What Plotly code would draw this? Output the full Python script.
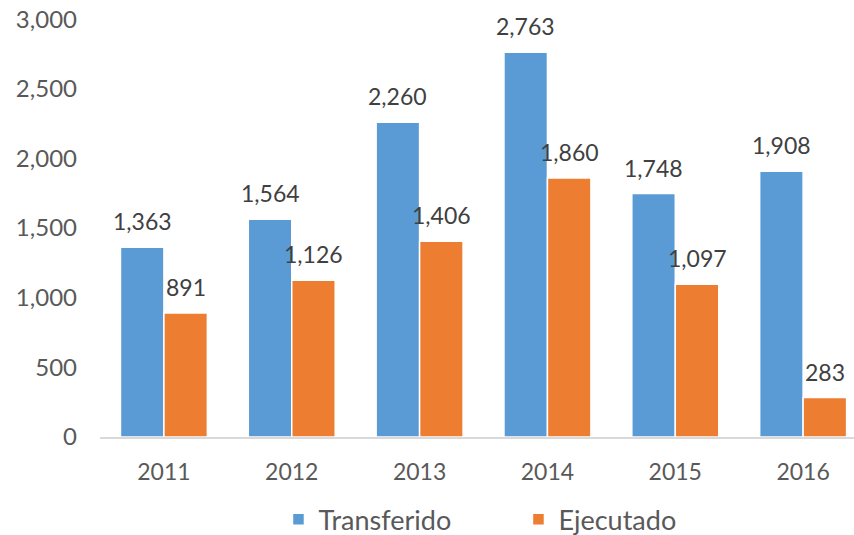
import plotly.graph_objects as go

years = ["2011", "2012", "2013", "2014", "2015", "2016"]
transferido = [1363, 1564, 2260, 2763, 1748, 1908]
ejecutado = [891, 1126, 1406, 1860, 1097, 283]
y_ticks = [0, 500, 1000, 1500, 2000, 2500, 3000]

BLUE = "#5B9BD5"
ORANGE = "#ED7D31"
FONT = "Lato"

fig = go.Figure()
fig.add_trace(go.Bar(x=years, y=transferido, name="Transferido",
                     marker=dict(color=BLUE, line=dict(color="white", width=1.5))))
fig.add_trace(go.Bar(x=years, y=ejecutado, name="Ejecutado",
                     marker=dict(color=ORANGE, line=dict(color="white", width=1.5))))

ann = []
for i, yr in enumerate(years):
    for vals, shift in ((transferido, -21.75), (ejecutado, 21.75)):
        ann.append(dict(x=i, y=vals[i], xref="x", yref="y", text=f"{vals[i]:,}",
                        showarrow=False, xshift=shift, yshift=10, yanchor="bottom",
                        font=dict(family=FONT, size=23, color="#404040")))

fig.update_layout(
    width=854, height=535,
    margin=dict(l=99.5, r=0, t=18.7, b=98.3, autoexpand=False),
    paper_bgcolor="white", plot_bgcolor="white",
    barmode="group", bargap=0.32, bargroupgap=0,
    font=dict(family=FONT, size=23, color="#595959"),
    annotations=ann,
    showlegend=True,
    legend=dict(orientation="h", x=0.555, xanchor="center", y=-0.198, yanchor="middle",
                font=dict(family=FONT, size=27, color="#595959"),
                entrywidth=195, itemclick=False),
    xaxis=dict(type="category", range=[-0.5, 5.398], showline=True, linecolor="#D9D9D9",
               linewidth=1.5, ticks="", showgrid=False, ticklabelstandoff=14, zeroline=False,
               tickfont=dict(size=23)),
    yaxis=dict(range=[0, 3001], tickvals=y_ticks, tickformat=",", showgrid=False,
               zeroline=False, showline=False, ticks="", ticklabelstandoff=22,
               ticklabeloverflow="allow", tickfont=dict(size=24)),
)

fig.write_html("out.html", config={"displayModeBar": False},
               post_script="document.body.style.margin='0';")
